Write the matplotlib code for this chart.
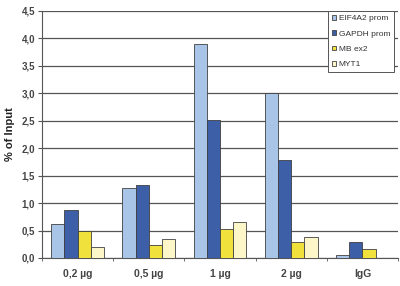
import matplotlib
matplotlib.use("Agg")
import matplotlib.pyplot as plt
import numpy as np

categories = ["0,2 µg", "0,5 µg", "1 µg", "2 µg", "IgG"]
series_names = ["EIF4A2 prom", "GAPDH prom", "MB ex2", "MYT1"]
eif4a2 = [0.62, 1.27, 3.90, 3.01, 0.06]
gapdh = [0.88, 1.33, 2.52, 1.79, 0.29]
mb = [0.50, 0.24, 0.52, 0.29, 0.17]
myt1 = [0.20, 0.35, 0.66, 0.38, 0.0]
yticks = [0.0, 0.5, 1.0, 1.5, 2.0, 2.5, 3.0, 3.5, 4.0, 4.5]
ytick_labels = ["0,0", "0,5", "1,0", "1,5", "2,0", "2,5", "3,0", "3,5", "4,0", "4,5"]
colors = ["#a8c4e6", "#3d5fa8", "#f0e13c", "#fcf6c8"]

plt.rcParams['font.family'] = ['Liberation Sans', 'DejaVu Sans']
fig = plt.figure(figsize=(4.0, 2.86), dpi=100)
ax = fig.add_axes([0.105, 0.098, 0.89, 0.864])

series = [eif4a2, gapdh, mb, myt1]
x = np.arange(len(categories))
w = 0.185
for i, (vals, c, n) in enumerate(zip(series, colors, series_names)):
    ax.bar(x + (i - 1.5) * w, vals, w, color=c, edgecolor="#404040", linewidth=0.6, label=n, zorder=3)

ax.set_xlim(-0.5, len(categories) - 0.5)
ax.set_ylim(0, 4.5)
ax.set_yticks(yticks)
ax.set_yticklabels(ytick_labels, fontsize=7, fontweight="bold", color="#444444")
ax.set_xticks(x)
ax.set_xticklabels(categories, fontsize=7.5, fontweight="bold", color="#444444")
ax.set_xticks(np.arange(len(categories) + 1) - 0.5, minor=True)
ax.tick_params(axis="x", which="major", length=0, pad=8)
ax.tick_params(axis="x", which="minor", length=2, color="#555555")
ax.tick_params(axis="y", length=3, pad=2, color="#555555")
ax.set_ylabel("% of Input", fontsize=8, fontweight="bold", color="#222222", labelpad=5)
ax.grid(axis="y", color="#555555", linewidth=0.9, zorder=0)
for s in ["top", "right"]:
    ax.spines[s].set_visible(False)
ax.spines["left"].set_color("#555555")
ax.spines["bottom"].set_color("#555555")

leg = ax.legend(loc="upper right", bbox_to_anchor=(0.99, 1.0), fontsize=6, frameon=True, fancybox=False,
                edgecolor="#555555", framealpha=1, handlelength=0.5, handleheight=0.5,
                handletextpad=0.35, borderpad=0.5, labelspacing=0.95, borderaxespad=0.0)
leg.get_frame().set_linewidth(0.7)
leg.set_zorder(5)
for t in leg.get_texts():
    t.set_color("#333333")

fig.savefig("out.png", dpi=100)
